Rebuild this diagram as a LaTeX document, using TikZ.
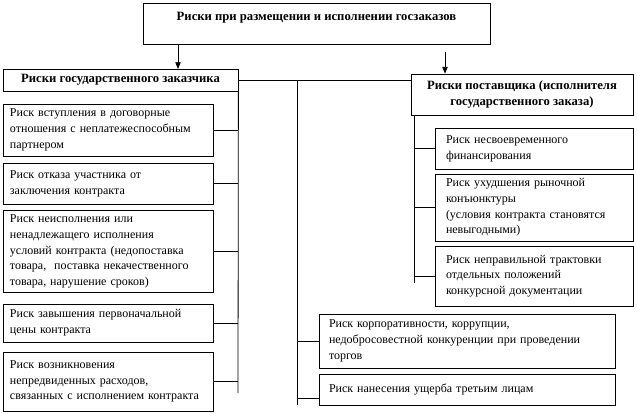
\documentclass[tikz,border=0pt]{standalone}
\usepackage{fontspec}
\setmainfont{Liberation Serif}
\usetikzlibrary{arrows.meta}

\begin{document}
\begin{tikzpicture}[
    x=0.75pt, y=-0.75pt,
    line width=0.6pt,
    every node/.style={font=\fontsize{9}{11.8}\selectfont},
    head/.style={draw, align=center, font=\fontsize{9.5}{12.5}\selectfont\bfseries},
    risk/.style={draw, execute at begin node={\raggedright\rightskip=0pt plus 1fil minus 60pt\relax}},
    lrisk/.style={risk, text width=147pt, inner xsep=5.25pt},
    rrisk/.style={risk, text width=132pt, inner xsep=8.25pt},
    mrisk/.style={risk, text width=207pt, inner xsep=7.5pt},
    arr/.style={-{Triangle[length=5pt, width=4pt]}}
]
    \useasboundingbox (0,0) rectangle (637,414);

    % Top
    \node[head, minimum width=260.25pt, text height=10pt, text depth=14.75pt, inner ysep=3pt] (top) at (316.5,23.5) {Риски при размещении и исполнении госзаказов};

    % Headers
    \node[head, minimum width=176.25pt, minimum height=16.5pt] (lhead) at (120.5,80) {Риски государственного заказчика};
    \node[head, minimum width=166.5pt, minimum height=30.75pt] (rhead) at (522,94.5) {Риски поставщика (исполнителя\\государственного заказа)};

    % Customer risks
    \node[lrisk, minimum height=39pt] (lb1) at (108,130) {Риск вступления в договорные\\отношения с неплатежеспособным\\партнером};
    \node[lrisk, minimum height=30.75pt] (lb2) at (108,183.5) {Риск отказа участника от\\заключения контракта};
    \node[lrisk, minimum height=60.75pt] (lb3) at (108,251.5) {Риск неисполнения или\\ненадлежащего исполнения\\условий контракта (недопоставка\\товара,\ \ поставка некачественного\\товара, нарушение сроков)};
    \node[lrisk, minimum height=28.5pt] (lb4) at (108,323) {Риск завышения первоначальной\\цены контракта};
    \node[lrisk, minimum height=44.25pt] (lb5) at (108,381.5) {Риск возникновения\\непредвиденных расходов,\\связанных с исполнением контракта};

    % Supplier risks
    \node[rrisk, minimum height=30.75pt] (rb1) at (534,148.5) {Риск несвоевременного\\финансирования};
    \node[rrisk, minimum height=48.75pt] (rb2) at (534,207.5) {Риск ухудшения рыночной\\конъюнктуры\\(условия контракта становятся\\невыгодными)};
    \node[rrisk, minimum height=45pt] (rb3) at (534,276) {Риск неправильной трактовки\\отдельных положений\\конкурсной документации};

    % Common risks
    \node[mrisk, minimum height=40.5pt] (mb1) at (467,341) {Риск корпоративности, коррупции,\\недобросовестной конкуренции при проведении\\торгов};
    \node[mrisk, minimum height=23.25pt] (mb2) at (467,389.5) {Риск нанесения ущерба третьим лицам};

    % Bus points
    \coordinate (la) at (178,69);
    \coordinate (ra) at (445,52);
    \coordinate (lend) at (238,393);
    \coordinate (mtop) at (297,80);
    \coordinate (mend) at (297,405);
    \coordinate (rtop) at (414,115);
    \coordinate (rend) at (414,283);

    % Arrows
    \draw[arr] (top.south -| la) -- (la);
    \draw[arr] (ra) -- (ra |- rhead.north);

    % Buses
    \draw (lhead.east) -- (lhead.east -| rhead.west);
    \draw (lhead.south east) -- (lend);
    \draw (mtop) -- (mend);
    \draw (rtop) -- (rend);

    % Connections
    \foreach \b in {lb1, lb2, lb3, lb4, lb5} {
        \draw (\b.east) -- (\b.east -| lend);
    }
    \foreach \b in {rb1, rb2, rb3} {
        \draw (\b.west) -- (\b.west -| rend);
    }
    \draw (mb1.west) -- (mb1.west -| mend);
    \draw ([yshift=-6.5pt]mb2.west) -- ([yshift=-6.5pt]mb2.west -| mend);
\end{tikzpicture}
\end{document}
